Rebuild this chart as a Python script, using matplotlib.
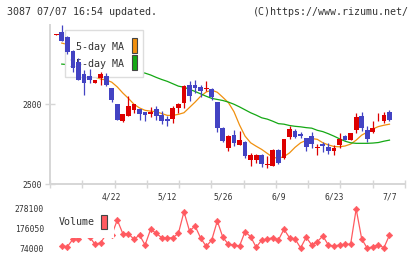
import numpy as np
import matplotlib
matplotlib.use("Agg")
import matplotlib.pyplot as plt
from matplotlib.patches import Rectangle
from matplotlib.transforms import blended_transform_factory

# ---------------- data ----------------
date_labels = ["4/22", "5/12", "5/26", "6/9", "6/23", "7/7"]
date_label_idx = [10, 20, 30, 40, 50, 60]

opens = [3061, 3073, 3054, 3001, 2957, 2914, 2906, 2881, 2900, 2906,
         2860, 2801, 2737, 2756, 2779, 2781, 2770, 2765, 2781, 2759,
         2745, 2746, 2786, 2806, 2873, 2873, 2865, 2856, 2856, 2810,
         2712, 2637, 2684, 2647, 2658, 2590, 2590, 2609, 2572, 2569,
         2628, 2597, 2676, 2699, 2688, 2672, 2681, 2637, 2651, 2639,
         2625, 2647, 2681, 2666, 2703, 2756, 2703, 2697, 2739, 2738,
         2770]
closes = [3064, 3036, 2998, 2936, 2892, 2881, 2892, 2891, 2914, 2871,
          2816, 2741, 2762, 2794, 2800, 2765, 2760, 2772, 2756, 2738,
          2738, 2786, 2801, 2869, 2831, 2861, 2850, 2859, 2829, 2712,
          2663, 2681, 2655, 2666, 2605, 2609, 2609, 2575, 2575, 2628,
          2580, 2669, 2707, 2676, 2681, 2641, 2650, 2640, 2643, 2625,
          2637, 2669, 2666, 2691, 2751, 2712, 2668, 2712, 2741, 2759,
          2741]
highs = [3064, 3098, 3056, 3004, 2973, 2929, 2932, 2893, 2923, 2919,
         2862, 2801, 2764, 2831, 2801, 2783, 2772, 2789, 2794, 2775,
         2757, 2794, 2803, 2873, 2888, 2891, 2873, 2888, 2861, 2810,
         2716, 2683, 2703, 2699, 2660, 2616, 2614, 2611, 2605, 2630,
         2632, 2670, 2718, 2707, 2697, 2674, 2696, 2651, 2659, 2653,
         2648, 2691, 2684, 2693, 2768, 2771, 2718, 2738, 2768, 2771,
         2778]
lows = [3061, 3036, 2990, 2923, 2891, 2835, 2881, 2880, 2873, 2870,
        2810, 2741, 2735, 2754, 2768, 2741, 2738, 2753, 2741, 2726,
        2718, 2731, 2766, 2785, 2814, 2844, 2829, 2851, 2816, 2697,
        2659, 2625, 2643, 2646, 2599, 2569, 2578, 2565, 2561, 2568,
        2575, 2595, 2668, 2674, 2672, 2625, 2637, 2609, 2622, 2613,
        2609, 2637, 2664, 2664, 2693, 2701, 2659, 2691, 2737, 2731,
        2737]

ma5 = [np.nan, 3030, 3025, 3005, 2975, 2950, 2922, 2902, 2895, 2891,
       2883, 2865, 2842, 2822, 2800, 2786, 2777, 2774, 2772, 2765,
       2758, 2758, 2762, 2768, 2788, 2808, 2830, 2846, 2853, 2845,
       2826, 2806, 2772, 2722, 2680, 2655, 2642, 2630, 2615, 2600,
       2597, 2603, 2617, 2638, 2655, 2664, 2671, 2668, 2655, 2647,
       2641, 2640, 2643, 2650, 2665, 2684, 2695, 2707, 2716, 2721,
       2725]
ma25 = [np.nan, 2951, 2949, 2946, 2944, 2941, 2939, 2937, 2935, 2933,
        2931, 2930, 2928, 2926, 2924, 2921, 2917, 2910, 2901, 2893,
        2886, 2877, 2868, 2864, 2856, 2848, 2839, 2830, 2822, 2818,
        2814, 2808, 2800, 2790, 2779, 2768, 2759, 2749, 2744, 2736,
        2727, 2725, 2720, 2717, 2715, 2712, 2710, 2702, 2697, 2689,
        2680, 2670, 2661, 2655, 2653, 2653, 2653, 2654, 2656, 2661,
        2665]

volumes = [np.nan, 87500, 82300, 120700, 120700, 149000, 132700, 94800, 103000, 146000,
           144000, 221000, 149800, 149800, 120700, 143000, 91100, 172700, 151900, 129000,
           127000, 129000, 151900, 264000, 163800, 189800, 127500, 84000, 117100, 215800,
           131100, 94800, 91100, 86000, 160200, 134200, 79200, 117100, 122300, 129000,
           117100, 172700, 129000, 122300, 76000, 131100, 91100, 108300, 137900, 91100,
           86000, 91100, 94800, 94800, 278100, 122300, 74000, 82300, 91100, 77100,
           143000]
vol_ticks = [74000, 176050, 278100]
price_ticks = [2500, 2800]

title_left = "3087 07/07 16:54 updated."
title_right = "(C)https://www.rizumu.net/"
legend_labels = ["5-day MA", "25-day MA"]

# ---------------- style ----------------
W, H = 420, 259
RED = "#dd0000"
BLUE = "#4343c3"
ORANGE = "#f0900f"
GREEN = "#14a814"
VOLC = "#ff5a60"
GRAY = "#d6d6d6"
TXT = "#333333"
MONO = "DejaVu Sans Mono"

def fx(x):
    return x / W

def fy(y):
    return 1 - y / H

fig = plt.figure(figsize=(W / 100, H / 100), dpi=100)
fig.patch.set_facecolor("white")

# pixel layout
X0, X1 = 50, 405
MT, MB = 25, 184
VT, VB = 205, 252
# index <-> pixel: idx0 at 56.2, step 5.555
XMIN = (X0 - 56.2) / 5.555
XMAX = (X1 - 56.2) / 5.555

ax = fig.add_axes([fx(X0), fy(MB), fx(X1) - fx(X0), fy(MT) - fy(MB)])
ax.set_xlim(XMIN, XMAX)
ax.set_ylim(2500, 3098)
ax.set_facecolor("none")
for s in ["top", "right"]:
    ax.spines[s].set_visible(False)
for s in ["left", "bottom"]:
    ax.spines[s].set_color(GRAY)
    ax.spines[s].set_linewidth(1.4)

idx = np.arange(len(opens))
o = np.array(opens, float)
c = np.array(closes, float)
h = np.array(highs, float)
l = np.array(lows, float)

# MA lines (below legend)
ax.plot(idx, ma5, color=ORANGE, lw=0.9, zorder=2)
ax.plot(idx, ma25, color=GREEN, lw=0.9, zorder=2)

# candles
for i in idx:
    col = RED if c[i] >= o[i] else BLUE
    ax.vlines(i, l[i], h[i], color=col, lw=0.9, zorder=4)
    bot = min(o[i], c[i])
    ht = max(abs(c[i] - o[i]), 3.5)
    ax.bar(i, ht, bottom=bot, width=0.85, color=col, lw=0, zorder=4.1)

# ticks
ax.set_xticks(np.linspace(XMIN, XMAX, 12))
ax.set_xticklabels([])
ax.tick_params(axis="x", direction="inout", length=5.8, width=1.0, color=GRAY)
ax.set_yticks(price_ticks)
ax.set_yticklabels([str(v) for v in price_ticks], fontsize=5.8, family=MONO, color=TXT)
ax.tick_params(axis="y", direction="inout", length=6.5, width=1.0, color=GRAY, pad=2.5)

# x date labels
trans = blended_transform_factory(ax.transData, fig.transFigure)
for k, lab in zip(date_label_idx, date_labels):
    ax.text(k, fy(197), lab, transform=trans, ha="center", va="center",
            fontsize=5.8, family=MONO, color=TXT, clip_on=False)

# legend box (above MA lines, below candles)
ax.add_patch(Rectangle((fx(65), fy(77)), fx(143) - fx(65), fy(30) - fy(77),
                       transform=fig.transFigure, facecolor="white", edgecolor="#dddddd",
                       lw=1.0, zorder=3, clip_on=False))
ax.text(fx(76.5), fy(46.5), legend_labels[0], transform=fig.transFigure, ha="left",
        va="center", fontsize=7.2, family=MONO, color=TXT, zorder=3.5)
ax.text(fx(70.5), fy(63.5), legend_labels[1], transform=fig.transFigure, ha="left",
        va="center", fontsize=7.2, family=MONO, color=TXT, zorder=3.5)
ax.add_patch(Rectangle((fx(131.5), fy(52.5)), fx(137.3) - fx(131.5), fy(37.5) - fy(52.5),
                       transform=fig.transFigure, facecolor=ORANGE, edgecolor="#444444",
                       lw=0.8, zorder=3.5, clip_on=False))
ax.add_patch(Rectangle((fx(131.5), fy(69.5)), fx(137.3) - fx(131.5), fy(54.5) - fy(69.5),
                       transform=fig.transFigure, facecolor=GREEN, edgecolor="#444444",
                       lw=0.8, zorder=3.5, clip_on=False))

# ---------------- volume panel ----------------
vax = fig.add_axes([fx(X0), fy(VB), fx(X1) - fx(X0), fy(VT) - fy(VB)])
vax.set_xlim(XMIN, XMAX)
v_per_px = (278100 - 74000) / (248.3 - 209.0)
vax.set_ylim(74000 - (VB - 248.3) * v_per_px, 74000 + (248.3 - VT) * v_per_px)
vax.set_facecolor("none")
for s in vax.spines.values():
    s.set_visible(False)
vax.set_xticks([])
vax.set_yticks(vol_ticks)
vax.set_yticklabels([str(v) for v in vol_ticks], fontsize=5.8, family=MONO, color=TXT)
vax.tick_params(axis="y", length=0, pad=4.3)
vax.plot(idx, volumes, color=VOLC, lw=0.9, marker="D", ms=3.3, mec=VOLC, mfc=VOLC,
         mew=0.4, zorder=2, clip_on=False)

vax.add_patch(Rectangle((fx(57), fy(237.5)), fx(114.5) - fx(57), fy(212) - fy(237.5),
                        transform=fig.transFigure, facecolor="white", edgecolor="none",
                        zorder=3, clip_on=False))
vax.text(fx(58.3), fy(221.7), "Volume", transform=fig.transFigure, ha="left", va="center",
         fontsize=7.2, family=MONO, color=TXT, zorder=3.5)
vax.add_patch(Rectangle((fx(101.2), fy(229)), fx(107.2) - fx(101.2), fy(214.5) - fy(229),
                        transform=fig.transFigure, facecolor=VOLC, edgecolor="#444444",
                        lw=0.8, zorder=3.5, clip_on=False))

# ---------------- titles ----------------
fig.text(fx(6.7), fy(12), title_left, ha="left", va="center", fontsize=7.2, family=MONO, color=TXT)
fig.text(fx(408.5), fy(12), title_right, ha="right", va="center", fontsize=7.2, family=MONO, color=TXT)

fig.savefig("out.png", dpi=100, facecolor="white")
